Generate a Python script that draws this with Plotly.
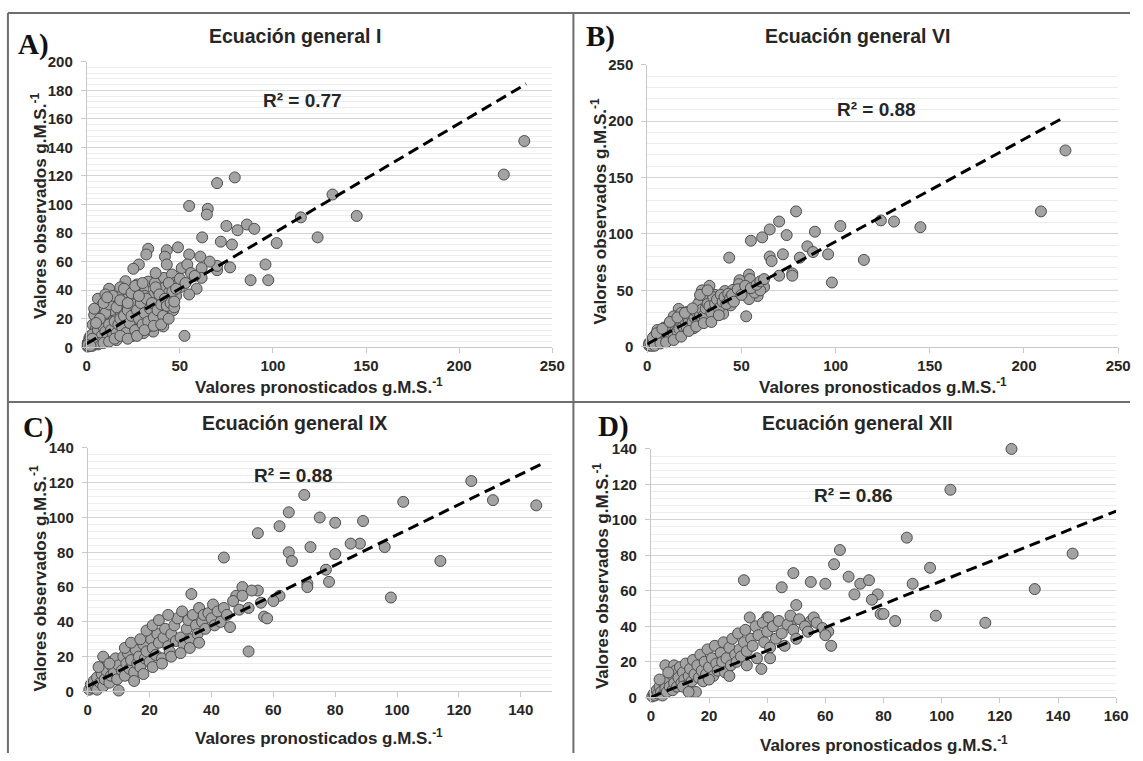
import plotly.graph_objects as go

W, H = 1143, 761

# ---------------- DATA ----------------
# Panel A: Ecuación general I  (predicted x, observed y)
A_x = [79.5, 70, 55, 65, 64.5, 132, 145, 115, 124, 102, 75, 81, 86, 90, 62, 72, 78, 96, 88, 97.5,
       52.5, 77, 70, 70, 66, 61, 61.7, 61.7, 55, 49, 43, 42, 33, 32, 43, 28, 25, 51, 54, 59,
       55, 46, 50, 41.5, 45.8, 224, 235,
       20.8, 18, 12, 6, 10, 20.8, 33, 36.6, 30.5, 26, 35.7, 40, 44.5, 42.9, 46.4, 40.3, 35.7, 31.3, 26, 20.8,
       15.5, 11, 6.7, 4, 13.8, 19, 24.3, 30.5, 34.8, 41.1, 39.3, 35.7, 30.5, 25, 19, 14.5, 10, 8.5,
       4.9, 3.2, 1.4, 5.8, 13.8, 21.7, 24.3, 0.5,
       2, 1, 3, 4, 6, 7, 8, 9, 12, 11, 15, 16, 17, 18, 22, 23, 27, 28, 29, 32, 33, 37, 38, 39, 42, 44,
       47, 48, 14, 9, 7, 5, 2, 3, 1, 0.5, 2.5, 6, 10, 16, 20, 26, 29, 34, 22, 27, 37, 31, 24, 13, 17,
       1, 2, 3, 4, 5, 2, 3, 5, 6, 7, 8, 9, 10, 11, 12, 13, 14, 15, 16, 17, 18, 19, 20, 21, 22, 23, 24,
       25, 26, 27, 28, 29, 30, 31, 32, 33, 34, 35, 36, 37, 38, 39, 40, 41, 42, 43, 44, 45, 46, 47, 48,
       8, 10, 12, 14, 16, 18, 20, 22, 24, 26, 28, 30, 7, 5, 4, 9, 11, 6, 3, 1, 0.5, 2, 9, 12, 15, 18,
       22, 27, 31, 36, 40, 44, 47, 50, 53, 56, 58]
A_y = [119, 115, 99, 97, 93, 107, 92, 91, 77, 73, 85, 82, 86, 83, 77, 74, 72, 58, 47, 47,
       8, 56, 54, 57, 60, 63.5, 55.5, 48.6, 65, 70, 68, 63.5, 69, 65, 58, 58, 55, 55.5, 58, 41,
       37, 46, 42, 48.6, 51, 121, 144.5,
       46.3, 42, 41, 34, 37, 37.3, 46, 45, 41, 38.6, 36.5, 36.5, 33.8, 28, 25.9, 24.8, 24.8, 30.6, 29.6, 30.6,
       29.6, 27.4, 24.8, 22.6, 20.3, 16.9, 18, 19.1, 19.1, 14.6, 19, 11, 9.9, 13.4, 9.9, 11, 15.8, 9.9,
       9.9, 15.8, 6.6, 5.4, 6.6, 6.6, 7.8, 3,
       2, 1, 4, 3, 8, 6, 12, 7, 10, 18, 14, 22, 12, 25, 20, 28, 22, 33, 26, 28, 22, 30, 40, 33, 42, 38,
       45, 36, 33, 22, 18, 13, 8, 1, 4, 0.5, 5.5, 2, 4, 5, 14, 16, 14, 15, 35, 44, 52, 36, 33, 26, 35,
       2, 3, 2, 5, 4, 6, 9, 7, 12, 4, 8, 14, 11, 6, 16, 12, 8, 18, 10, 16, 20, 14, 22, 10, 26, 17, 22,
       30, 12, 26, 20, 31, 16, 24, 34, 18, 27, 31, 21, 42, 26, 37, 30, 22, 34, 29, 45, 31, 39, 28, 41,
       29, 24, 30, 36, 28, 33, 41, 31, 38, 43, 36, 45, 20, 17, 27, 31, 35, 3, 6, 1, 1.5, 1, 3, 4, 6, 8,
       6, 8, 12, 15, 16, 20, 32, 48, 45, 52, 50]
A_fit_x = [0, 236]
A_fit_y = [2.5, 184.5]

# Panel B: Ecuación general VI
B_x = [79, 70, 65, 61, 55, 74, 89, 102.5, 124, 85, 88, 96, 81, 72, 65, 66, 43.5, 115, 98, 70,
       77, 77, 54, 54.5, 49, 48.6, 62, 58.6, 54, 52.5, 33, 29, 30.8, 28, 36, 41.2, 45.5, 39.9, 44.3, 45.5,
       35, 31.4, 40.3, 34.2, 28.1, 25.5, 21.1, 16.7, 19.3, 24.6, 18.5, 13.3, 14.1, 9.8, 5.4, 4.5, 8, 1,
       209, 222, 131, 145,
       2, 3, 6, 7, 10, 11, 12, 15, 17, 20, 22, 23, 26, 27, 30, 32, 35, 37, 38, 40, 42, 29, 24, 20, 15,
       12, 9, 6, 3, 1, 5, 18, 22, 26, 30, 33, 36, 31, 27, 47, 50, 46, 57, 60, 14, 18, 8, 4,
       1, 2, 3, 4, 5, 6, 7, 8, 9, 10, 11, 12, 13, 14, 15, 16, 17, 18, 19, 20, 21, 22, 23, 24, 25, 26,
       27, 28, 29, 30, 31, 32, 33, 34, 35, 36, 37, 38, 39, 40, 41, 42, 43, 44, 45, 46, 48, 50, 52, 55,
       58, 60, 62, 3, 5, 8, 12, 16, 20, 24, 28, 32, 4, 7, 10, 14, 18, 22, 26, 30, 34, 38]
B_y = [120, 111, 104, 97, 94, 99, 102, 107, 112, 89, 84, 82, 79, 82, 80, 76, 79, 77, 57, 63,
       65, 63, 64, 60, 59, 55.5, 53, 45, 42.3, 27, 54, 50, 46, 41, 46, 49.4, 50.4, 39.6, 36.7, 40.6,
       34.6, 39.6, 29.3, 25, 30.8, 23.6, 30.8, 33.6, 23.6, 16.4, 16.4, 19.3, 10.6, 13.4, 14.9, 7.7, 4.8, 3.3,
       120, 174, 111, 106,
       2, 5, 6, 10, 9, 16, 13, 14, 20, 18, 25, 20, 28, 33, 36, 30, 40, 35, 44, 45, 43, 37, 27, 26, 22,
       8, 17, 11, 1, 1, 3, 12, 15, 20, 24, 31, 30, 45, 38, 48, 50, 44, 48, 50, 27, 30, 12, 10,
       2, 1, 4, 2, 6, 4, 8, 7, 11, 6, 12, 10, 15, 12, 18, 14, 16, 21, 18, 23, 17, 22, 28, 22, 26, 31,
       24, 28, 33, 28, 34, 38, 36, 30, 44, 38, 42, 34, 46, 40, 44, 38, 47, 43, 46, 40, 51, 46, 54, 52,
       55, 58, 60, 8, 12, 16, 22, 26, 30, 34, 46, 50, 1, 3, 4, 6, 9, 14, 18, 21, 22, 28]
B_fit_x = [0, 222]
B_fit_y = [2.5, 204]

# Panel C: Ecuación general IX
C_x = [124, 131, 145, 102, 89, 96, 114, 98, 70, 75, 80, 65, 62, 55, 44, 72, 65, 66, 78, 71,
       71, 62, 60, 52, 55, 56, 50, 48, 57, 88, 85, 77, 80, 58,
       0.5, 1, 1.5, 2, 2.5, 3, 3, 4, 4.5, 5, 5.5, 6, 6.5, 7, 7.5, 8, 8.5, 9, 9.5, 10, 10, 11, 11.5, 12,
       12.5, 13, 13.5, 14, 15, 15.5, 16, 16.5, 17, 18, 18.5, 19, 20, 20.5, 21, 22, 22.5, 23, 24, 24.5,
       25, 26, 26.5, 27, 28, 28.5, 29, 30, 30.5, 31, 32, 32.5, 33, 33.5, 34, 35, 35.5, 36, 37, 37.5, 38,
       39, 40, 40.5, 41, 42, 43, 44, 45, 46, 47, 49, 50, 52, 53, 3.5, 5, 7, 12, 14, 17, 19, 21, 23, 26,
       15, 18, 21, 24, 27, 30, 33, 36]
C_y = [121, 110, 107, 109, 98, 83, 75, 54, 113, 100, 97, 103, 95, 91, 77, 83, 80, 75, 63, 62,
       60, 55, 52, 23, 58, 51, 60, 55, 43, 85, 85, 70, 79, 42,
       1, 4, 2, 6, 3, 1, 8, 5, 10, 3, 7, 12, 17, 5, 9, 14, 11, 19, 7, 0.5, 15, 12, 20, 9,
       16, 22, 13, 18, 11, 24, 16, 20, 14, 27, 19, 23, 17, 30, 25, 21, 33, 28, 19, 31,
       36, 26, 23, 33, 38, 29, 42, 31, 46, 27, 36, 41, 30, 56, 44, 38, 33, 48, 40, 44, 36,
       45, 42, 50, 38, 46, 40, 48, 44, 37, 52, 47, 55, 48, 58, 14, 20, 16, 25, 28, 30, 35, 38, 41, 44,
       6, 10, 14, 16, 20, 22, 25, 28]
C_fit_x = [0, 147]
C_fit_y = [3, 131]

# Panel D: Ecuación general XII
D_x = [124, 103, 88, 96, 145, 132, 115, 98, 65, 63, 68, 72, 75, 70, 78, 84, 79, 76, 55, 60,
       32, 49, 55, 50, 48, 45, 40, 90, 80,
       0.5, 1, 1.5, 2, 2.5, 3, 3.5, 4, 4.5, 5, 5, 5.5, 6, 6.5, 7, 7.5, 8, 8, 8.5, 9, 9.5, 10, 10.5, 11,
       11.5, 12, 12.5, 13, 13.5, 14, 14.5, 15, 15.5, 16, 16.5, 17, 17.5, 18, 18.5, 19, 19.5, 20, 21,
       21.5, 22, 22.5, 23, 24, 24.5, 25, 25.5, 26, 27, 27.5, 28, 29, 29.5, 30, 30.5, 31, 32, 32.5, 33,
       34, 34.5, 35, 36, 36.5, 37, 38, 38.5, 39, 40, 40.5, 41, 42, 43, 44, 45, 46, 47, 48, 49, 50, 51,
       53, 54, 56, 57, 59, 61, 62, 60, 3, 6, 11, 13, 20, 27, 33, 41]
D_y = [140, 117, 90, 73, 81, 61, 42, 46, 83, 75, 68, 64, 66, 58, 58, 43, 47, 55, 65, 64,
       66, 70, 43, 52, 41, 62, 45, 64, 47,
       0.5, 2, 1, 4, 2, 6, 3, 1, 8, 5, 18, 3, 10, 6, 13, 4, 8, 18, 15, 6, 11, 17, 8, 14,
       10, 19, 7, 12, 16, 9, 21, 13, 3, 18, 11, 24, 15, 9, 20, 13, 27, 17, 22,
       12, 29, 19, 15, 25, 20, 31, 14, 22, 28, 18, 33, 24, 20, 36, 27, 23, 31, 38, 26,
       45, 33, 29, 40, 22, 35, 16, 42, 31, 37, 45, 28, 40, 33, 43, 36, 29, 41, 46, 38, 33, 44,
       40, 37, 45, 42, 39, 37, 29, 35, 10, 14, 6, 3, 10, 12, 18, 22]
D_fit_x = [0, 160]
D_fit_y = [0, 105]

TITLES = ["Ecuación general I", "Ecuación general VI", "Ecuación general IX", "Ecuación general XII"]
LETTERS = ["A)", "B)", "C)", "D)"]
R2 = ["R² = 0.77", "R² = 0.88", "R² = 0.88", "R² = 0.86"]
XT = "Valores pronosticados g.M.S.<sup>-1</sup>"
YT = "Valores observados g.M.S.<sup>-1</sup>"

# ---------------- LAYOUT (pixel geometry) ----------------
panels = [
    dict(x=A_x, y=A_y, fx=A_fit_x, fy=A_fit_y, xr=[0, 250], xd=50, yr=[0, 200], yd=20, ym=4,
         l=84, r=556.5, t=54, b=346, title=(295, 28), letter=(30, 36), r2=(303, 94),
         xt=(320, 386), yt=(35, 201)),
    dict(x=B_x, y=B_y, fx=B_fit_x, fy=B_fit_y, xr=[0, 250], xd=50, yr=[0, 250], yd=50, ym=10,
         l=653, r=1131, t=57, b=345.5, title=(866, 28), letter=(605, 28), r2=(886, 103),
         xt=(892, 386), yt=(604, 207)),
    dict(x=C_x, y=C_y, fx=C_fit_x, fy=C_fit_y, xr=[0, 150], xd=20, yr=[0, 140], yd=20, ym=4,
         l=85, r=556, t=449, b=698, title=(295, 423), letter=(35, 428), r2=(294, 477),
         xt=(320, 745), yt=(35, 582)),
    dict(x=D_x, y=D_y, fx=D_fit_x, fy=D_fit_y, xr=[0, 160], xd=20, yr=[0, 140], yd=20, ym=4,
         l=656.6, r=1129, t=450, b=704, title=(866, 423), letter=(619, 427), r2=(862, 498),
         xt=(893, 752), yt=(606, 580)),
]

fig = go.Figure()
annotations = []
FONT = "Arial, Liberation Sans, sans-serif"
TXT = "#262626"

for i, p in enumerate(panels):
    k = "" if i == 0 else str(i + 1)
    xa, ya = "x" + k, "y" + k
    fig.add_trace(go.Scatter(
        x=p["x"], y=p["y"], mode="markers", xaxis=xa, yaxis=ya, showlegend=False, cliponaxis=False,
        marker=dict(size=11, color="#a3a3a3", line=dict(color="#4d4d4d", width=1)),
        hoverinfo="skip"))
    fig.add_trace(go.Scatter(
        x=p["fx"], y=p["fy"], mode="lines", xaxis=xa, yaxis=ya, showlegend=False,
        line=dict(color="black", width=3, dash="11px,6px"), hoverinfo="skip"))
    xdom = [p["l"] / W, p["r"] / W]
    ydom = [1 - p["b"] / H, 1 - p["t"] / H]
    fig.layout["xaxis" + k] = dict(
        domain=xdom, range=p["xr"], dtick=p["xd"], tick0=0, anchor=ya,
        showgrid=False, zeroline=False, showline=True, linecolor="#c8c8c8", linewidth=1,
        ticks="outside", ticklen=5, tickcolor="#c8c8c8",
        tickfont=dict(family=FONT, size=15, color=TXT, weight="bold"), fixedrange=True)
    fig.layout["yaxis" + k] = dict(
        domain=ydom, range=p["yr"], dtick=p["yd"], tick0=0, anchor=xa,
        showgrid=True, gridcolor="#d4d4d4", gridwidth=1, zeroline=False,
        showline=True, linecolor="#c8c8c8", linewidth=1,
        ticks="outside", ticklen=5, tickcolor="#c8c8c8", ticklabelstandoff=5,
        minor=dict(dtick=p["ym"], showgrid=True, gridcolor="#ededed", gridwidth=1),
        tickfont=dict(family=FONT, size=15, color=TXT, weight="bold"), fixedrange=True)

    def ann(text, pos, size, family=FONT, angle=0, color=TXT):
        annotations.append(dict(
            text=text, x=pos[0] / W, y=1 - pos[1] / H, xref="paper", yref="paper",
            xanchor="center", yanchor="middle", showarrow=False, textangle=angle,
            font=dict(family=family, size=size, color=color, weight="bold")))

    ann(TITLES[i], p["title"], 19.5)
    ann(LETTERS[i], p["letter"], 29, family="Liberation Serif, Times New Roman, serif", color="#111")
    ann(R2[i], p["r2"], 19)
    ann(XT, p["xt"], 17)
    ann(YT, p["yt"], 17, angle=-90)

shapes = []
BC = "#6e6e6e"
def line(x0, y0, x1, y1):
    shapes.append(dict(type="line", xref="paper", yref="paper",
                       x0=x0 / W, y0=1 - y0 / H, x1=x1 / W, y1=1 - y1 / H,
                       line=dict(color=BC, width=2)))
line(4, 4, 1143, 4)
line(4, 4, 4, 761)
line(578, 4, 578, 761)
line(4, 402, 1143, 402)

fig.update_layout(
    width=W, height=H, margin=dict(l=0, r=0, t=0, b=0),
    paper_bgcolor="white", plot_bgcolor="white",
    annotations=annotations, shapes=shapes,
)

fig.write_html("out.html")
